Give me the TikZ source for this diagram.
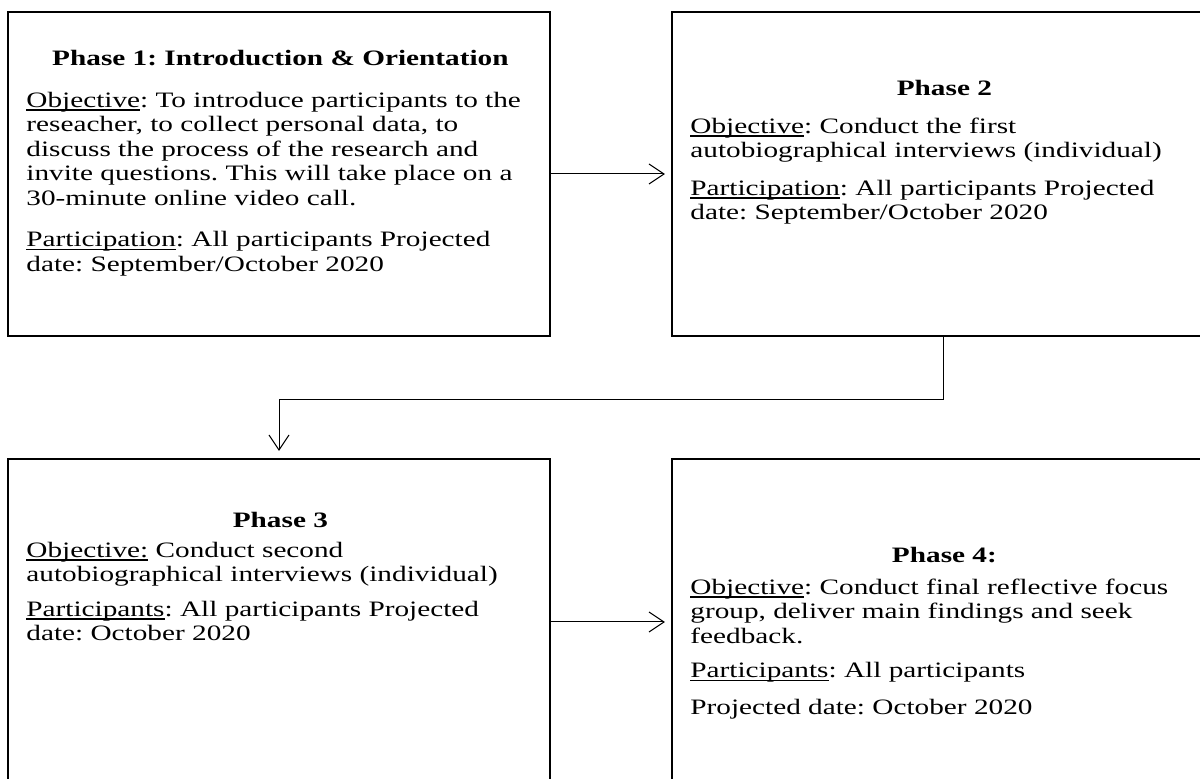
\documentclass[tikz,border=0pt]{standalone}
\usepackage{fontspec}
\setmainfont{Liberation Serif}[FakeStretch=1.33]
\usetikzlibrary{arrows.meta}
\newcommand{\uword}[1]{\leavevmode\setbox0\hbox{#1}\rlap{\rule[-1.7pt]{\wd0}{0.6pt}}\box0\relax}
\begin{document}
\frenchspacing
\begin{tikzpicture}[x=0.5pt,y=0.5pt]
\tikzstyle{every node}+=[inner sep=0pt]
\tikzstyle{phasebox}=[draw,line width=1.1pt,minimum width=271pt,minimum height=162pt]
\tikzstyle{phasetext}=[anchor=north west,text width=254pt,align=left,font=\fontsize{11pt}{12.25pt}\selectfont]
\tikzstyle{flow}=[line width=0.5pt,-{Straight Barb[length=7.5pt,width=10pt]},shorten >=3pt]
\useasboundingbox (0,0) rectangle (1200,-779);
\node[phasebox] (p1) at (279,-174) {};
\node[phasebox] (p2) at (943,-174) {};
\node[phasebox,minimum height=163pt] (p3) at (279,-622) {};
\node[phasebox,minimum height=163pt] (p4) at (943,-622) {};
\node[phasetext] (p1txt) at (26,-50) {\makebox[\linewidth]{\bfseries Phase 1: Introduction \& Orientation}\\[8.5pt]
\uword{Objective}: To introduce participants to the\\
reseacher, to collect personal data, to\\
discuss the process of the research and\\
invite questions. This will take place on a\\
30-minute online video call.\\[8.5pt]
\uword{Participation}: All participants Projected\\
date: September/October 2020};
\node[phasetext] (p2txt) at (690,-80) {\makebox[\linewidth]{\bfseries Phase 2}\\[6.5pt]
\uword{Objective}: Conduct the first\\
autobiographical interviews (individual)\\[6.5pt]
\uword{Participation}: All participants Projected\\
date: September/October 2020};
\node[phasetext] (p3txt) at (26,-512) {\makebox[\linewidth]{\bfseries Phase 3}\\[2.5pt]
\uword{Objective:} Conduct second\\
autobiographical interviews (individual)\\[5pt]
\uword{Participants}: All participants Projected\\
date: October 2020};
\node[phasetext] (p4txt) at (690,-547) {\makebox[\linewidth]{\bfseries Phase 4:}\\[3.5pt]
\uword{Objective}: Conduct final reflective focus\\
group, deliver main findings and seek\\
feedback.\\[5pt]
\uword{Participants}: All participants\\[6pt]
Projected date: October 2020};
\draw[flow] (p1) -- (p2);
\draw[flow] (p3) -- (p4);
\draw[flow,shorten >=3.5pt] (p2.south) -- ++(0,-62) -| (p3.north);
\end{tikzpicture}
\end{document}
